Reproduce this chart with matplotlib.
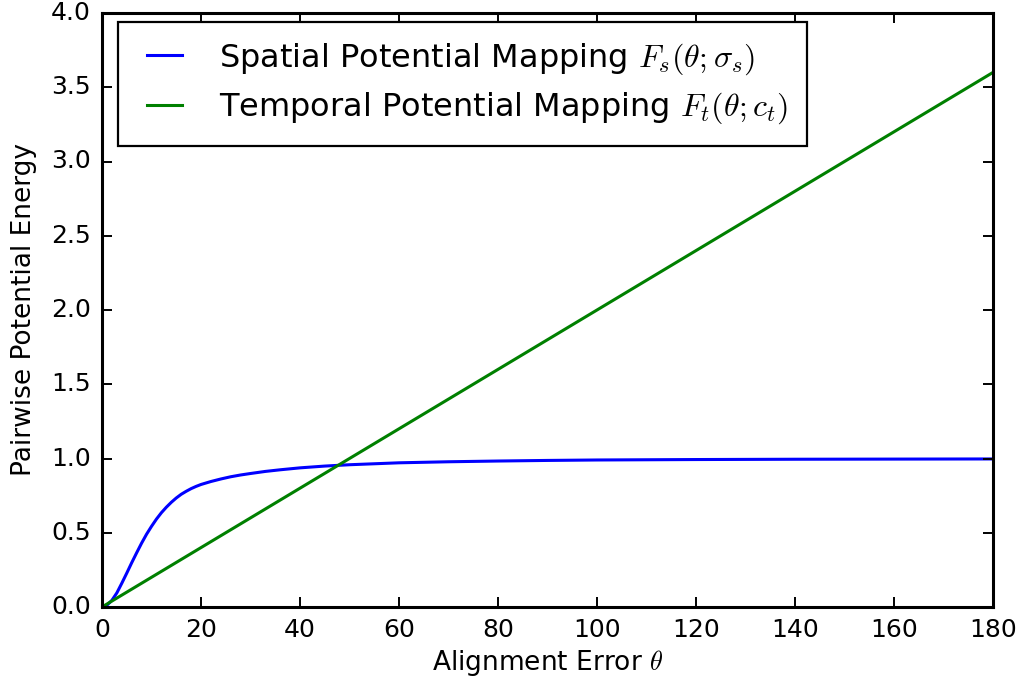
import numpy as np
import matplotlib
matplotlib.use("Agg")
import matplotlib.pyplot as plt

# alignment error (degrees) and potential energy of the two mappings
theta_s = [0, 1, 2, 3, 4, 5, 6, 7, 8, 9, 10, 11, 12, 13, 14, 15, 16, 17, 18, 19, 20,
           22, 24, 26, 28, 30, 33, 36, 40, 45, 50, 60, 70, 80, 90, 100, 120, 140, 160, 180]
energy_s = [0, 0.012, 0.045, 0.095, 0.16, 0.228, 0.298, 0.365, 0.43, 0.49, 0.543, 0.592,
            0.635, 0.672, 0.705, 0.734, 0.759, 0.779, 0.797, 0.812, 0.825,
            0.845, 0.862, 0.877, 0.889, 0.899, 0.913, 0.924, 0.937, 0.949, 0.958,
            0.971, 0.978, 0.983, 0.987, 0.99, 0.993, 0.995, 0.996, 0.997]

theta_t = [0, 180]
energy_t = [0.0, 3.6]

label_s = r"Spatial Potential Mapping $F_s(\theta;\sigma_s)$"
label_t = r"Temporal Potential Mapping $F_t(\theta;c_t)$"

plt.style.use("classic")
plt.rcParams["mathtext.fontset"] = "cm"

fig = plt.figure(figsize=(10.26, 6.81), dpi=100, facecolor="white")
ax = fig.add_axes([102 / 1026, 1 - 607 / 681, 891 / 1026, 594 / 681])

ax.plot(theta_s, energy_s, color="#0000ff", lw=2.2, label=label_s)
ax.plot(theta_t, energy_t, color="#008000", lw=2.2, label=label_t)

ax.set_xlim(0, 180)
ax.set_ylim(0, 4.0)
ax.set_xticks(np.arange(0, 181, 20))
ax.set_yticks(np.arange(0, 4.01, 0.5))
ax.set_yticklabels(["%.1f" % v for v in np.arange(0, 4.01, 0.5)])

for s in ax.spines.values():
    s.set_linewidth(2.2)
ax.tick_params(which="major", direction="in", length=7, width=1.4, labelsize=18, pad=8,
               top=True, right=True)
ax.tick_params(which="minor", length=0)

ax.set_xlabel(r"Alignment Error $\theta$", fontsize=19, labelpad=4)
ax.set_ylabel("Pairwise Potential Energy", fontsize=19, labelpad=10)

leg = ax.legend(loc="upper left", bbox_to_anchor=(0.018, 0.985), borderaxespad=0,
                fontsize=23, handlelength=1.7, handletextpad=0.85, borderpad=0.6,
                labelspacing=0.45, fancybox=False, shadow=False, framealpha=1.0,
                numpoints=2)
leg.get_frame().set_edgecolor("black")
leg.get_frame().set_linewidth(1.6)

fig.savefig("out.png", dpi=100, facecolor="white")
